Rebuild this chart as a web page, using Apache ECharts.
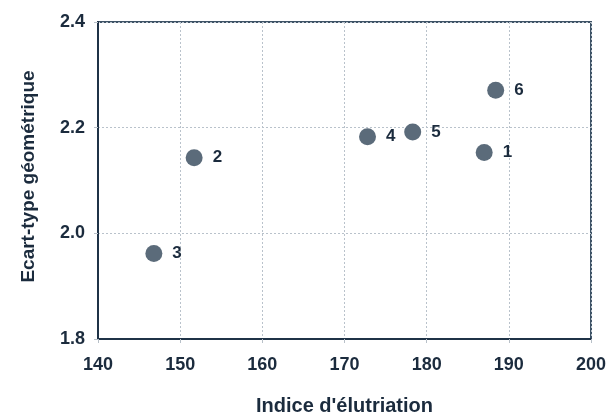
<!DOCTYPE html>
<html>
<head>
<meta charset="utf-8">
<script src="https://cdn.jsdelivr.net/npm/echarts@6/dist/echarts.min.js"></script>
<style>
  html, body { margin: 0; padding: 0; background: #ffffff; }
  #chart { width: 613px; height: 415px; }
</style>
</head>
<body>
<div id="chart"></div>
<script>
// Sample numbers and their measured values
const sampleIds = ['1', '2', '3', '4', '5', '6'];
const elutriationIndex = [187.0, 151.7, 146.8, 172.8, 178.3, 188.4];
const geometricStdDev = [2.153, 2.143, 1.962, 2.183, 2.192, 2.271];

const xTicks = { min: 140, max: 200, step: 10 };
const yTicks = { min: 1.8, max: 2.4, step: 0.2 };

const points = sampleIds.map((id, i) => ({
  name: id,
  value: [elutriationIndex[i], geometricStdDev[i]]
}));

const textColor = '#1b2b3d';
const fontFamily = '"Liberation Sans", Arial, sans-serif';

const chart = echarts.init(document.getElementById('chart'), null, { renderer: 'canvas' });
chart.setOption({
  backgroundColor: '#ffffff',
  animation: false,
  grid: {
    left: 98, right: 22, top: 22, bottom: 76,
    outerBoundsMode: 'none',
    containLabel: false,
    show: true,
    borderColor: '#3e5366',
    borderWidth: 2,
    backgroundColor: 'transparent'
  },
  xAxis: {
    type: 'value',
    min: xTicks.min, max: xTicks.max, interval: xTicks.step,
    name: "Indice d'élutriation",
    nameLocation: 'middle',
    nameGap: 57,
    nameTextStyle: { color: textColor, fontSize: 20, fontWeight: 'bold', fontFamily },
    axisLine: { show: true, lineStyle: { color: '#1f3247', width: 2 } },
    axisTick: { show: true, length: 4, lineStyle: { color: '#b8c0c8' } },
    axisLabel: { margin: 17, color: textColor, fontSize: 18, fontWeight: 'bold', fontFamily },
    splitLine: { show: true, lineStyle: { color: '#b9c2cb', type: [2, 2], width: 1 } }
  },
  yAxis: {
    type: 'value',
    min: yTicks.min, max: yTicks.max, interval: yTicks.step,
    name: 'Ecart-type géométrique',
    nameLocation: 'middle',
    nameGap: 60,
    nameTextStyle: {
      color: textColor, fontSize: 19, fontWeight: 'bold', fontFamily,
      padding: [0, 0, 0, 8]
    },
    axisLine: { show: true, lineStyle: { color: '#1f3247', width: 2 } },
    axisTick: { show: true, length: 4, lineStyle: { color: '#b8c0c8' } },
    axisLabel: {
      margin: 13, color: textColor, fontSize: 18, fontWeight: 'bold', fontFamily,
      formatter: v => v.toFixed(1)
    },
    splitLine: { show: true, lineStyle: { color: '#b9c2cb', type: [2, 2], width: 1 } }
  },
  series: [{
    type: 'scatter',
    data: points,
    symbol: 'circle',
    symbolSize: 17,
    itemStyle: { color: '#5b6b7a', opacity: 1 },
    label: {
      show: true,
      position: 'right',
      distance: 10,
      formatter: p => p.name,
      color: textColor,
      fontSize: 17,
      fontWeight: 'bold',
      fontFamily
    }
  }]
});
</script>
</body>
</html>
